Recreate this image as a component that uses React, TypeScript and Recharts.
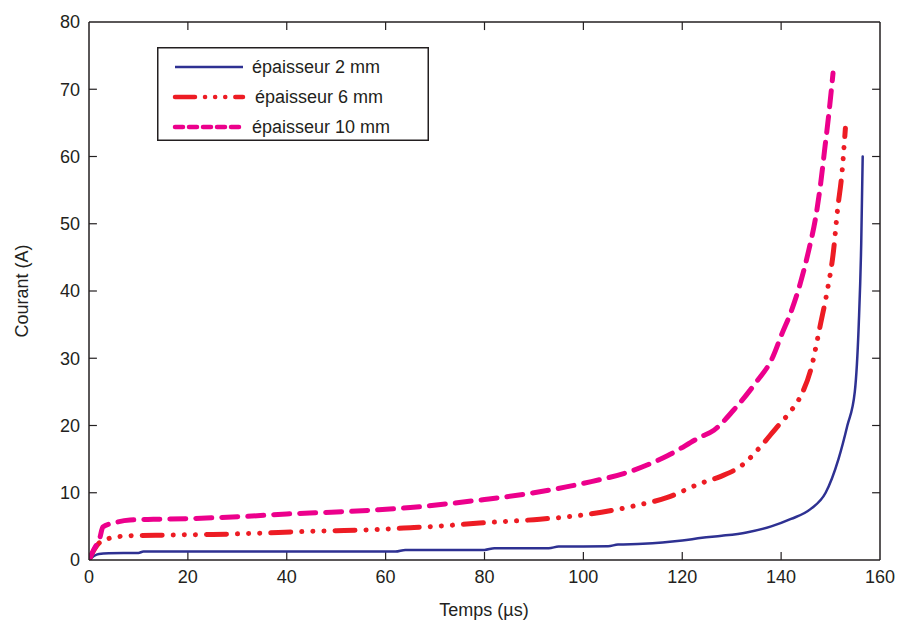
import React from "react";
import { LineChart, Line, XAxis, YAxis, ReferenceLine } from "recharts";

const ink = "#231F20";
const font = "'Liberation Sans', Arial, Helvetica, sans-serif";

const xTicks = [0, 20, 40, 60, 80, 100, 120, 140, 160];
const yTicks = [0, 10, 20, 30, 40, 50, 60, 70, 80];

// épaisseur 2 mm
const t2 = [0, 1, 2, 4, 10, 11, 62, 64, 80, 82, 93, 95, 105, 107, 112, 116, 120, 124, 128, 133, 138, 142, 146, 149, 151.6, 153.4, 154.9, 155.7, 156.2, 156.5];
const i2 = [0, 0.6, 0.9, 1.0, 1.05, 1.25, 1.25, 1.5, 1.5, 1.75, 1.75, 2.0, 2.05, 2.3, 2.4, 2.6, 2.9, 3.3, 3.6, 4.1, 5.0, 6.1, 7.6, 10, 15, 20, 25, 35, 47, 60];

// épaisseur 6 mm
const t6 = [0, 1, 2, 4, 8, 15, 25, 35, 42, 50, 57, 65, 71, 79, 90, 100, 110, 117, 123.7, 127.7, 132.1, 136, 139.2, 141.8, 143.9, 146, 148, 149.3, 150.6, 151.4, 152.3, 153];
const i6 = [0, 1.5, 2.5, 3.2, 3.6, 3.7, 3.8, 4.0, 4.2, 4.35, 4.5, 4.8, 5.05, 5.5, 6.0, 6.7, 8.0, 9.3, 11.4, 12.4, 14.1, 17.0, 19.8, 22, 24.3, 28.3, 35.2, 39.9, 46, 52, 57.5, 64.2];

// épaisseur 10 mm
const t10 = [0, 1, 2.2, 2.8, 5, 8.3, 13, 20, 26, 32, 40, 49, 58, 65, 73, 80, 90, 100, 110, 117, 123.7, 126.4, 130.4, 134.8, 138.2, 140.2, 141.9, 143.9, 145.6, 147, 148, 148.8, 149.6, 150.5];
const i10 = [0, 1.6, 3.3, 4.9, 5.5, 5.95, 6.05, 6.15, 6.3, 6.5, 6.85, 7.1, 7.45, 7.8, 8.4, 9.0, 10.0, 11.4, 13.3, 15.5, 18.3, 19.3, 22.3, 26.3, 30, 33.7, 36.7, 41.2, 46.1, 51, 56, 61, 66, 72.4];

const toRows = (t: number[], v: number[]) => t.map((x, k) => ({ t: x, i: v[k] }));

const series = [
  { name: "épaisseur 2 mm", data: toRows(t2, i2), color: "#2E3192", width: 2.5, dash: undefined as string | undefined, legendDash: undefined as string | undefined },
  { name: "épaisseur 6 mm", data: toRows(t6, i6), color: "#ED1C24", width: 5, dash: "20 11 0.1 11 0.1 11 0.1 11", legendDash: "20 10 0.1 10 0.1 10 0.1 10" },
  { name: "épaisseur 10 mm", data: toRows(t10, i10), color: "#EC008C", width: 5, dash: "16 10", legendDash: "8 6" },
];

// inward tick marks of the frame, length in axis units (about 8px)
const tickLenY = 1.2;
const tickLenX = 1.6;

function LegendBox() {
  const rows = [20, 50, 80];
  return (
    <svg width={272} height={94} style={{ position: "absolute", left: 157, top: 47 }}>
      <rect x={0.75} y={0.75} width={270.5} height={92.5} fill="#fff" stroke={ink} strokeWidth={1.5} />
      {series.map((s, k) => (
        <g key={s.name}>
          <line x1={18} x2={86} y1={rows[k]} y2={rows[k]} stroke={s.color} strokeWidth={s.width === 5 ? 4.5 : 2.5}
            strokeDasharray={s.legendDash} strokeLinecap={s.dash ? "round" : "butt"} />
          <text x={k === 1 ? 98 : 95} y={rows[k] + 6} fontSize={18} fill={ink} fontFamily={font}>{s.name}</text>
        </g>
      ))}
    </svg>
  );
}

export default function App() {
  const tickStyle = { fontSize: 18, fill: ink, fontFamily: font };
  const xMax = xTicks[xTicks.length - 1];
  const yMax = yTicks[yTicks.length - 1];
  return (
    <div style={{ position: "absolute", left: 0, top: 0, width: 900, height: 627, background: "#fff", fontFamily: font }}>
      <LineChart width={900} height={627} margin={{ top: 22, right: 20, left: 10, bottom: 27 }}>
        <XAxis xAxisId="b" dataKey="t" type="number" domain={[0, xMax]} ticks={xTicks} allowDataOverflow
          tick={tickStyle} tickLine={false} tickSize={0} tickMargin={10} height={40}
          axisLine={{ stroke: ink, strokeWidth: 1.5 }} />
        <YAxis yAxisId="l" type="number" domain={[0, yMax]} ticks={yTicks} allowDataOverflow width={79}
          tick={tickStyle} tickLine={false} tickSize={0} tickMargin={9}
          axisLine={{ stroke: ink, strokeWidth: 1.5 }} />
        <XAxis xAxisId="tm" type="number" domain={[0, xMax]} mirror orientation="top" tick={false} tickLine={false}
          axisLine={{ stroke: ink, strokeWidth: 1.5 }} />
        <YAxis yAxisId="rm" type="number" domain={[0, yMax]} mirror orientation="right" tick={false} tickLine={false}
          axisLine={{ stroke: ink, strokeWidth: 1.5 }} />
        {xTicks.slice(1, -1).flatMap((v) => [
          <ReferenceLine key={`xb${v}`} xAxisId="b" yAxisId="l" segment={[{ x: v, y: 0 }, { x: v, y: tickLenY }]} stroke={ink} strokeWidth={1.2} ifOverflow="visible" />,
          <ReferenceLine key={`xt${v}`} xAxisId="b" yAxisId="l" segment={[{ x: v, y: yMax }, { x: v, y: yMax - tickLenY }]} stroke={ink} strokeWidth={1.2} ifOverflow="visible" />,
        ])}
        {yTicks.slice(1, -1).flatMap((v) => [
          <ReferenceLine key={`yl${v}`} xAxisId="b" yAxisId="l" segment={[{ x: 0, y: v }, { x: tickLenX, y: v }]} stroke={ink} strokeWidth={1.2} ifOverflow="visible" />,
          <ReferenceLine key={`yr${v}`} xAxisId="b" yAxisId="l" segment={[{ x: xMax, y: v }, { x: xMax - tickLenX, y: v }]} stroke={ink} strokeWidth={1.2} ifOverflow="visible" />,
        ])}
        {series.map((s) => (
          <Line key={s.name} xAxisId="b" yAxisId="l" data={s.data} dataKey="i" name={s.name} type="monotone"
            stroke={s.color} strokeWidth={s.width} strokeDasharray={s.dash} strokeLinecap="round" strokeLinejoin="round"
            dot={false} activeDot={false} isAnimationActive={false} />
        ))}
      </LineChart>
      <LegendBox />
      <div style={{ position: "absolute", left: 384, top: 600, width: 200, textAlign: "center", fontSize: 18, color: ink }}>
        Temps (µs)
      </div>
      <div style={{ position: "absolute", left: 22, top: 291, transform: "translate(-50%, -50%) rotate(-90deg)", whiteSpace: "nowrap", fontSize: 18, color: ink }}>
        Courant (A)
      </div>
    </div>
  );
}
